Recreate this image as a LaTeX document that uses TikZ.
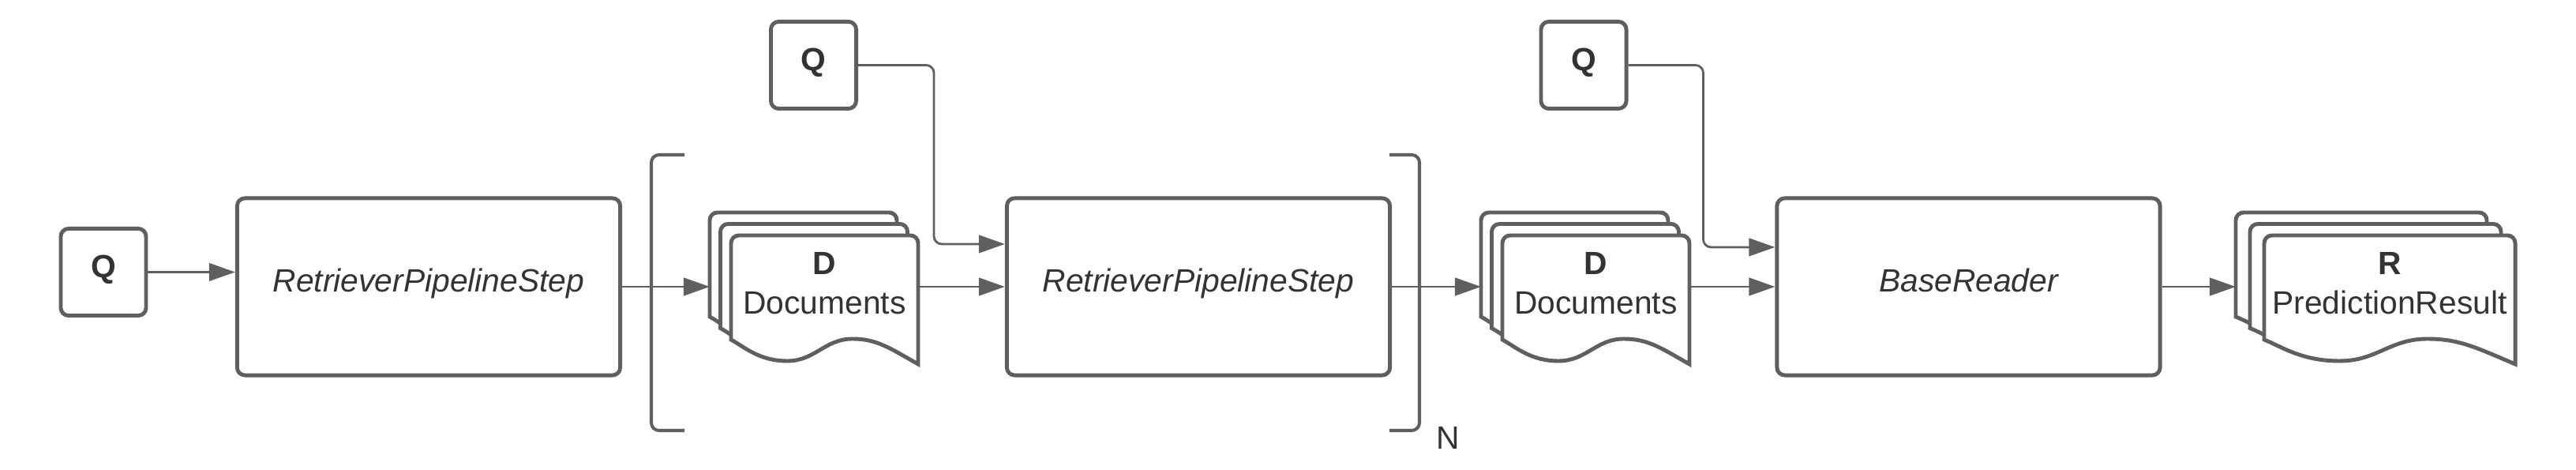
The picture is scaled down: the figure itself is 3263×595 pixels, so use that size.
\documentclass[tikz,border=0pt]{standalone}
\usepackage{fontspec}
\setmainfont{Liberation Sans}
\usetikzlibrary{arrows.meta}

\definecolor{linegray}{HTML}{5F5F5F}
\definecolor{textgray}{HTML}{333333}
\newcommand{\labelsize}{\fontsize{11.6pt}{14.2pt}\selectfont}

% stack of three pages: name, left x, page width, x offset, label
\newcommand{\docstack}[5]{%
  \foreach \k in {0,1,2}{
    \pgfmathsetmacro{\pl}{#2+\k*#4}
    \pgfmathsetmacro{\pt}{269+\k*14.5}
    \pgfmathsetmacro{\pr}{\pl+#3}
    \filldraw[page] (\pl,{\pt+132}) [rounded corners=2.8pt] -- (\pl,\pt) -- (\pr,\pt) -- (\pr,{\pt+40})
      [sharp corners] -- (\pr,{\pt+163})
      .. controls ({\pl+0.85*#3},{\pt+143}) and ({\pl+0.78*#3},{\pt+131}) .. ({\pl+0.65*#3},{\pt+131})
      .. controls ({\pl+0.5*#3},{\pt+131}) and ({\pl+0.45*#3},{\pt+159}) .. ({\pl+0.3*#3},{\pt+159})
      .. controls ({\pl+0.15*#3},{\pt+159}) and ({\pl+0.07*#3},{\pt+141}) .. (\pl,{\pt+132}) -- cycle;
  }
  \node[inner sep=0pt, minimum height=0.2cm, minimum width={(2*#4+#3)*0.01cm}, anchor=west] (#1) at (#2,363) {};
  \node[doctext] (#1-label) at ({#2+2*#4+#3/2},359) {#5};
}

\begin{document}
\begin{tikzpicture}[x=0.01cm, y=-0.01cm,
    box/.style={draw=linegray, line width=1.4pt, fill=white, rounded corners=2.8pt, text=textgray,
      inner sep=0pt, text height=0.22cm, text depth=0.08cm},
    stepbox/.style={box, minimum width=4.85cm, minimum height=2.24cm, font={\labelsize\itshape}},
    qbox/.style={box, minimum width=1.08cm, minimum height=1.1cm, font={\labelsize\bfseries}},
    page/.style={draw=linegray, line width=1.4pt, fill=white},
    conn/.style={draw=linegray, line width=0.8pt, -{Triangle[length=9.4pt,width=6.4pt]}},
    bracket/.style={draw=linegray, line width=1.15pt, rounded corners=2.8pt},
    doctext/.style={text=textgray, align=center, inner sep=0pt, font=\labelsize}]
    \useasboundingbox (0,0) rectangle (3263,595);

    % Queries
    \node[qbox] (q1) at (131,344.5) {Q};
    \node[qbox] (q2) at (1030.5,82.5) {Q};
    \node[qbox] (q3) at (2006,82.5) {Q};

    % Pipeline steps
    \node[stepbox] (ret1) at (543,363) {RetrieverPipelineStep};
    \node[stepbox] (ret2) at (1518,363) {RetrieverPipelineStep};
    \node[stepbox] (reader) at (2493.5,363) {BaseReader};

    % Document stacks
    \docstack{docs1}{899}{237}{13.5}{\textbf{D}\\Documents}
    \docstack{docs2}{1876}{237}{13.5}{\textbf{D}\\Documents}
    \docstack{result}{2832}{318}{18}{\textbf{R}\\PredictionResult}

    % Repeat bracket
    \draw[bracket] (867,196) -- (825,196) -- (825,545) -- (867,545);
    \draw[bracket] (1760,196) -- (1798,196) -- (1798,545) -- (1760,545);
    \node[doctext] (rep) at (1834,554) {N};

    % Connectors
    \draw[conn] (q1.east) -- (q1.east -| ret1.west);
    \draw[conn] (ret1.east) -- (docs1.west);
    \draw[conn] (docs1.east) -- (ret2.west);
    \draw[conn, rounded corners=2.8pt] (q2.east) -- ++(96,0) |- ([yshift=0.54cm]ret2.west);
    \draw[conn] (ret2.east) -- (docs2.west);
    \draw[conn] (docs2.east) -- (reader.west);
    \draw[conn, rounded corners=2.8pt] (q3.east) -- ++(95,0) |- ([yshift=0.5cm]reader.west);
    \draw[conn] (reader.east) -- (result.west);
\end{tikzpicture}
\end{document}
